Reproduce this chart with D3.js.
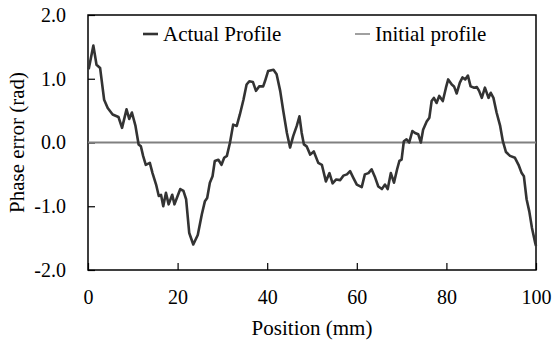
<!DOCTYPE html>
<html>
<head>
<meta charset="utf-8">
<script src="https://cdn.jsdelivr.net/npm/d3@7"></script>
<style>
  body { margin: 0; background: #fff; }
  text { font-family: "Liberation Serif", "Times New Roman", serif; fill: #000; }
</style>
</head>
<body>
<svg id="chart"></svg>
<script>
// data
const position = [0.15, 1.2, 1.9, 2.7, 3.6, 4.4, 5.5, 6.8, 7.6, 8.6, 9.2, 9.8, 10.6, 11.3, 11.8, 12.3, 12.9, 13.8,
  14.4, 15.2, 15.8, 16.3, 16.8, 17.4, 18.0, 18.8, 19.3, 20.0, 20.6, 21.3, 21.9, 22.6, 23.5, 24.5, 25.4, 26.1,
  26.6, 27.2, 27.8, 28.3, 29.1, 29.8, 30.4, 31.0, 31.7, 32.4, 33.2, 33.9, 34.7, 35.4, 36.0, 36.8, 37.5, 38.2,
  39.1, 39.5, 40.2, 41.4, 42.1, 42.9, 43.6, 44.4, 45.1, 45.8, 46.6, 47.2, 47.7, 48.2, 48.8, 49.6, 50.4, 51.4,
  52.2, 53.1, 53.9, 54.6, 55.4, 56.3, 57.0, 57.8, 58.5, 59.2, 60.0, 61.1, 61.8, 62.6, 63.3, 64.1, 64.8, 65.6,
  66.3, 66.9, 67.6, 68.3, 69.0, 69.5, 70.0, 70.5, 71.1, 71.7, 72.4, 73.0, 73.7, 74.3, 74.8, 75.6, 76.2, 76.7,
  77.2, 77.8, 78.4, 79.2, 79.9, 80.4, 81.2, 81.7, 82.3, 83.0, 83.6, 84.2, 84.8, 85.4, 86.2, 86.8, 87.3, 87.9,
  88.6, 89.4, 89.9, 90.5, 91.2, 92.0, 92.6, 93.3, 94.2, 95.3, 96.1, 96.8, 97.3, 97.9, 98.5, 99.1, 99.8, 100]
const phaseError = [1.15, 1.52, 1.22, 1.17, 0.67, 0.54, 0.44, 0.40, 0.23, 0.52, 0.37, 0.47, 0.26, -0.03, -0.06, -0.21, -0.35, -0.32,
  -0.48, -0.66, -0.84, -0.82, -1.0, -0.79, -0.97, -0.82, -0.97, -0.84, -0.73, -0.76, -0.89, -1.42, -1.60, -1.45, -1.13, -0.92,
  -0.87, -0.63, -0.53, -0.29, -0.27, -0.35, -0.24, -0.21, 0.0, 0.28, 0.26, 0.44, 0.67, 0.91, 0.96, 0.95, 0.81, 0.88,
  0.88, 0.96, 1.12, 1.14, 1.07, 0.81, 0.49, 0.15, -0.08, 0.10, 0.26, 0.41, 0.15, -0.03, -0.06, -0.19, -0.14, -0.32,
  -0.35, -0.61, -0.48, -0.64, -0.58, -0.59, -0.52, -0.50, -0.45, -0.55, -0.66, -0.70, -0.50, -0.48, -0.42, -0.55, -0.69, -0.73,
  -0.66, -0.73, -0.48, -0.63, -0.42, -0.29, -0.27, 0.02, 0.05, 0.0, 0.18, 0.15, 0.13, 0.0, 0.2, 0.33, 0.39, 0.65,
  0.70, 0.62, 0.73, 0.65, 0.86, 0.99, 0.91, 0.88, 0.77, 0.94, 1.02, 0.99, 1.05, 0.88, 0.86, 0.87, 0.81, 0.70,
  0.86, 0.70, 0.78, 0.70, 0.47, 0.26, 0.02, -0.15, -0.21, -0.24, -0.35, -0.48, -0.53, -0.89, -1.08, -1.34, -1.57, -1.62]
const initialProfile = [0, 0]
const initialPosition = [0, 100]
const xTicks = [0, 20, 40, 60, 80, 100]
const yTicks = [-2, -1, 0, 1, 2]
const legendLabels = ["Actual Profile", "Initial profile"]

const width = 554
const height = 342
const margin = { top: 15, right: 18, bottom: 72, left: 88 }

const svg = d3.select("#chart")
    .attr("width", width)
    .attr("height", height);

const x = d3.scaleLinear()
    .domain([0, 100])
    .range([margin.left, width - margin.right]);

const y = d3.scaleLinear()
    .domain([-2, 2])
    .range([height - margin.bottom, margin.top]);

// frame
svg.append("rect")
    .attr("x", x(0))
    .attr("y", y(2))
    .attr("width", x(100) - x(0))
    .attr("height", y(-2) - y(2))
    .attr("fill", "none")
    .attr("stroke", "#000")
    .attr("stroke-width", 1.5);

// axes, ticks inward
const xAxis = d3.axisBottom(x).tickValues(xTicks).tickSize(-7).tickPadding(20).tickFormat(d3.format("d"));
const yAxis = d3.axisLeft(y).tickValues(yTicks).tickSize(-7).tickPadding(22).tickFormat(d3.format(".1f"));

const gx = svg.append("g")
    .attr("transform", `translate(0, ${y(-2)})`)
    .call(xAxis);
const gy = svg.append("g")
    .attr("transform", `translate(${x(0)}, 0)`)
    .call(yAxis);

[gx, gy].forEach(g => {
    g.select(".domain").remove();
    g.selectAll(".tick line").attr("stroke", "#000").attr("stroke-width", 1.2);
    g.selectAll(".tick text")
        .style("font-family", "'Liberation Serif', 'Times New Roman', serif")
        .style("font-size", "20px")
        .attr("fill", "#000");
});
gy.selectAll(".tick text").text(d => d3.format(".1f")(d).replace("−", "-"));

// initial profile
const line = d3.line()
    .x(d => x(d[0]))
    .y(d => y(d[1]));

svg.append("path")
    .datum(initialPosition.map((p, i) => [p, initialProfile[i]]))
    .attr("d", line)
    .attr("fill", "none")
    .attr("stroke", "#808080")
    .attr("stroke-width", 2);

// actual profile
svg.append("path")
    .datum(position.map((p, i) => [p, phaseError[i]]))
    .attr("d", line)
    .attr("fill", "none")
    .attr("stroke", "#333")
    .attr("stroke-width", 2.6)
    .attr("stroke-linejoin", "round");

// legend
const legend = [
    { label: legendLabels[0], x: 143, color: "#333", w: 2.6 },
    { label: legendLabels[1], x: 355, color: "#808080", w: 1.5 }
];
legend.forEach(l => {
    svg.append("line")
        .attr("x1", l.x).attr("x2", l.x + 15)
        .attr("y1", 34).attr("y2", 34)
        .attr("stroke", l.color)
        .attr("stroke-width", l.w);
    svg.append("text")
        .attr("x", l.x + 20)
        .attr("y", 41)
        .style("font-size", "21px")
        .text(l.label);
});

// axis titles
svg.append("text")
    .attr("x", (x(0) + x(100)) / 2)
    .attr("y", 335)
    .attr("text-anchor", "middle")
    .style("font-size", "21px")
    .text("Position (mm)");

svg.append("text")
    .attr("transform", `translate(24, ${(y(2) + y(-2)) / 2}) rotate(-90)`)
    .attr("text-anchor", "middle")
    .style("font-size", "21px")
    .text("Phase error (rad)");
</script>
</body>
</html>
